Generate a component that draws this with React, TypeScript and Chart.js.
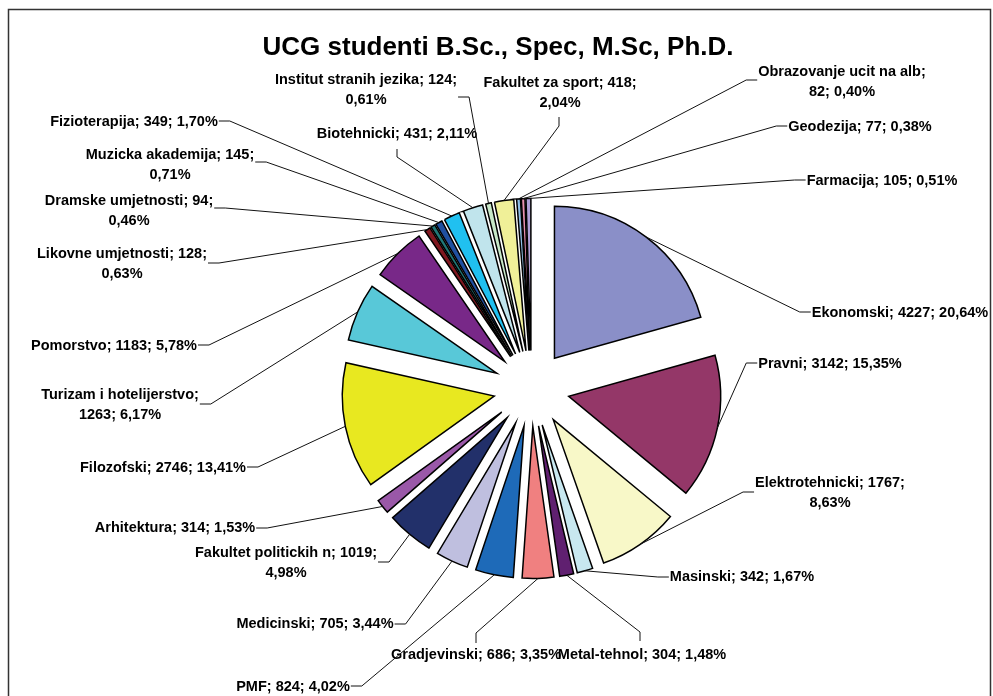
import React, { useEffect, useRef } from "react";
import { Chart, registerables } from "chart.js";

Chart.register(...registerables);

const TITLE = "UCG studenti B.Sc., Spec, M.Sc, Ph.D.";

const faculties = [
  "Ekonomski",
  "Pravni",
  "Elektrotehnicki",
  "Masinski",
  "Metal-tehnol",
  "Gradjevinski",
  "PMF",
  "Medicinski",
  "Fakultet politickih n",
  "Arhitektura",
  "Filozofski",
  "Turizam i hotelijerstvo",
  "Pomorstvo",
  "Likovne umjetnosti",
  "Dramske umjetnosti",
  "Muzicka akademija",
  "Fizioterapija",
  "Biotehnicki",
  "Institut stranih jezika",
  "Fakultet za sport",
  "Obrazovanje ucit na alb",
  "Geodezija",
  "Farmacija",
];

const students = [
  4227, 3142, 1767, 342, 304, 686, 824, 705, 1019, 314, 2746, 1263, 1183,
  128, 94, 145, 349, 431, 124, 418, 82, 77, 105,
];

const sliceColors = [
  "#8a8fc8",
  "#943768",
  "#f8f8c8",
  "#c8e8f0",
  "#602070",
  "#f08080",
  "#1e6ab8",
  "#bfbfdf",
  "#22306a",
  "#9a58a8",
  "#e8e820",
  "#58c8d8",
  "#782888",
  "#801820",
  "#207878",
  "#2050a0",
  "#20c0f0",
  "#c0e4ec",
  "#c8e8c8",
  "#f0f098",
  "#90c0e8",
  "#e890b0",
  "#b0a0d8",
];

// label layout: [centerX, firstLineY, wrapMode, side, a, b, c]
// wrapMode 0: one line, 1: break before percent, 2: break after name
// side l/r: a = stub y ; side t/b: a = stub x, b = stub start y, c = elbow y
const labelLayout: [number, number, number, string, number, number?, number?][] = [
  [900, 313, 0, "l", 312],
  [830, 364, 0, "l", 363],
  [830, 483, 1, "l", 492],
  [742, 577, 0, "l", 577],
  [642, 655, 0, "t", 640, 641, 632],
  [476, 655, 0, "t", 476, 643, 633],
  [293, 687, 0, "r", 686],
  [315, 624, 0, "r", 624],
  [286, 553, 1, "r", 562],
  [175, 528, 0, "r", 528],
  [163, 468, 0, "r", 467],
  [120, 395, 2, "r", 404],
  [114, 346, 0, "r", 345],
  [122, 254, 1, "r", 263],
  [129, 201, 1, "r", 208],
  [170, 155, 1, "r", 162],
  [134, 122, 0, "r", 121],
  [397, 134, 0, "b", 397, 149, 157],
  [366, 80, 1, "r", 97],
  [560, 83, 1, "b", 559, 117, 126],
  [842, 72, 2, "l", 80],
  [860, 127, 0, "l", 126],
  [882, 181, 0, "l", 180],
];

const EXPLODE = 38;
const RADIUS = 152;
const LINE_H = 20;
const LABEL_FONT = 'bold 14.5px "Liberation Sans", Arial, sans-serif';
const TITLE_FONT = 'bold 26px "Liberation Sans", Arial, sans-serif';

function pct(v: number, total: number) {
  return ((v / total) * 100).toFixed(2).replace(".", ",") + "%";
}

function labelLines(i: number, total: number, mode: number) {
  const name = faculties[i];
  const v = students[i];
  const p = pct(v, total);
  if (mode === 0) return [`${name}; ${v}; ${p}`];
  if (mode === 1) return [`${name}; ${v};`, p];
  return [`${name};`, `${v}; ${p}`];
}

const explodePlugin = {
  id: "explodeSlices",
  beforeDatasetsDraw(chart: any) {
    const meta = chart.getDatasetMeta(0);
    const { left, right, top, bottom } = chart.chartArea;
    const cx = (left + right) / 2;
    const cy = (top + bottom) / 2;
    meta.data.forEach((el: any) => {
      const mid = (el.startAngle + el.endAngle) / 2;
      el.x = cx + EXPLODE * Math.cos(mid);
      el.y = cy + EXPLODE * Math.sin(mid);
    });
  },
};

const annotatePlugin = {
  id: "annotate",
  afterDraw(chart: any) {
    const ctx = chart.ctx as CanvasRenderingContext2D;
    const meta = chart.getDatasetMeta(0);
    const total = students.reduce((s, v) => s + v, 0);
    ctx.save();
    ctx.strokeStyle = "#333";
    ctx.lineWidth = 1.5;
    ctx.strokeRect(8.5, 9.5, 982, 720);

    ctx.fillStyle = "#000";
    ctx.textAlign = "center";
    ctx.textBaseline = "middle";
    ctx.font = TITLE_FONT;
    ctx.fillText(TITLE, 498, 48);

    ctx.font = LABEL_FONT;
    ctx.strokeStyle = "#111";
    ctx.lineWidth = 1;
    meta.data.forEach((el: any, i: number) => {
      const [cx, y1, mode, side, a, b, c] = labelLayout[i];
      const lines = labelLines(i, total, mode);
      lines.forEach((t, k) => ctx.fillText(t, cx, y1 + k * LINE_H));
      const w = Math.max(...lines.map((t) => ctx.measureText(t).width));
      let sx: number, sy: number, ex: number, ey: number;
      if (side === "l") {
        sx = cx - w / 2 - 1;
        sy = a;
        ex = sx - 11;
        ey = sy;
      } else if (side === "r") {
        sx = cx + w / 2 + 1;
        sy = a;
        ex = sx + 11;
        ey = sy;
      } else {
        sx = a;
        sy = b as number;
        ex = a;
        ey = c as number;
      }
      const mid = (el.startAngle + el.endAngle) / 2;
      const tx = el.x + el.outerRadius * Math.cos(mid);
      const ty = el.y + el.outerRadius * Math.sin(mid);
      ctx.beginPath();
      ctx.moveTo(sx, sy);
      ctx.lineTo(ex, ey);
      ctx.lineTo(tx, ty);
      ctx.stroke();
    });
    ctx.restore();
  },
};

export default function App() {
  const ref = useRef<HTMLCanvasElement | null>(null);
  useEffect(() => {
    if (!ref.current) return;
    const chart = new Chart(ref.current, {
      type: "pie",
      data: {
        labels: faculties,
        datasets: [
          {
            data: students,
            backgroundColor: sliceColors,
            borderColor: "#000",
            borderWidth: 1.5,
            borderJoinStyle: "miter",
          } as any,
        ],
      },
      options: {
        responsive: false,
        animation: false,
        events: [],
        radius: RADIUS,
        layout: { padding: { left: 70, right: 0, top: 81, bottom: 0 } },
        plugins: {
          legend: { display: false },
          title: { display: false },
          tooltip: { enabled: false },
        },
      } as any,
      plugins: [explodePlugin, annotatePlugin],
    });
    return () => chart.destroy();
  }, []);
  return (
    <div style={{ position: "fixed", left: 0, top: 0, width: 993, height: 696, background: "#fff" }}>
      <canvas ref={ref} width={993} height={696} style={{ display: "block" }} />
    </div>
  );
}
